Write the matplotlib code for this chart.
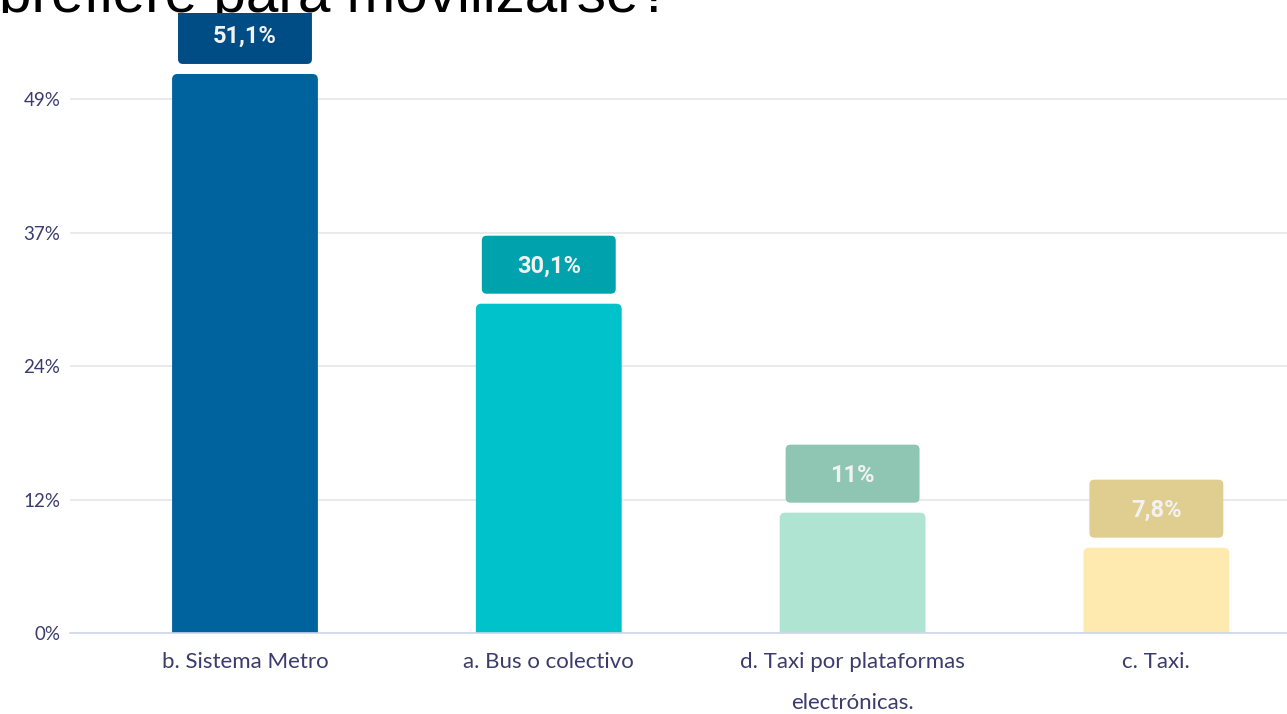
import matplotlib
matplotlib.use('Agg')
import matplotlib.pyplot as plt
from matplotlib.patches import FancyBboxPatch
from matplotlib.transforms import Bbox, TransformedBbox

# Data
categories = ['b. Sistema Metro', 'a. Bus o colectivo',
              'd. Taxi por plataformas\nelectrónicas.', 'c. Taxi.']
values = [51.1, 30.1, 11.0, 7.8]
value_labels = ['51,1%', '30,1%', '11%', '7,8%']
tick_values = [0, 12.2, 24.4, 36.6, 48.8]
tick_labels = ['0%', '12%', '24%', '37%', '49%']

bar_colors = ['#00639e', '#00c2cb', '#b0e4d2', '#feeaaf']
box_colors = ['#004c84', '#00a3ad', '#8fc6b3', '#e0ce91']
text_color = '#3b3b6d'

W, H = 1287, 714
top_cut = 13  # chart area starts this many pixels below the top edge
fig = plt.figure(figsize=(W / 100, H / 100), dpi=100)
ax = fig.add_axes([70 / W, 81 / H, 1 - 70 / W, (633 - top_cut) / H])

px_y = 1 / 10.94      # data units per pixel (y)
px_x = 1 / 304        # data units per pixel (x)
ax.set_ylim(0, (633 - top_cut) * px_y)
ax.set_xlim(-0.576, 3.43)

# Bars, then swap each rectangle for one with rounded top corners
bars = ax.bar(range(len(values)), values, width=0.48, color=bar_colors, zorder=2)
for rect, c in zip(bars, bar_colors):
    x0, w, h = rect.get_x(), rect.get_width(), rect.get_height()
    rect.remove()
    ax.add_patch(FancyBboxPatch((x0, -2), w, h + 2,
                                boxstyle='round,pad=0,rounding_size=0.018',
                                mutation_aspect=px_y / px_x,
                                fc=c, ec='none', zorder=2))

# Value label boxes above the bars
box_w = 134 * px_x
box_h = 58 * px_y
gap = 10 * px_y
for i, (v, lab, c) in enumerate(zip(values, value_labels, box_colors)):
    y0 = v + gap
    ax.add_patch(FancyBboxPatch((i - box_w / 2, y0), box_w, box_h,
                                boxstyle='round,pad=0,rounding_size=0.016',
                                mutation_aspect=px_y / px_x,
                                fc=c, ec='none', zorder=3))
    ax.text(i, y0 + box_h / 2 - 1.5 * px_y, lab, ha='center', va='center',
            color='#f2f2f2', fontsize=17, fontweight='bold',
            family='Roboto', zorder=4)

# Axes styling
ax.set_yticks(tick_values)
ax.set_yticklabels(tick_labels)
ax.set_xticks(range(len(categories)))
ax.set_xticklabels(categories, linespacing=2.3)
ax.tick_params(axis='y', length=0, pad=7, labelsize=13.5, labelcolor=text_color)
ax.tick_params(axis='x', length=0, pad=14, labelsize=16, labelcolor=text_color)
for lab in ax.get_xticklabels() + ax.get_yticklabels():
    lab.set_family('Lato')
ax.grid(axis='y', color='#e6e6ea', linewidth=1.2, zorder=0)
ax.set_axisbelow(True)
for s in ['top', 'right', 'left']:
    ax.spines[s].set_visible(False)
ax.spines['bottom'].set_color('#ccd6eb')
ax.spines['bottom'].set_linewidth(1.2)
ax.spines['bottom'].set_zorder(3)

# Title, cut off at the top of the picture as in the reference
title_clip = TransformedBbox(Bbox([[0, 1 - top_cut / H], [1, 1]]), fig.transFigure)
fig.text(-1 / W, 1 - 12 / H, 'prefiere para movilizarse?',
         ha='left', va='baseline', fontsize=42, color='black',
         family='Liberation Sans', zorder=-1,
         clip_on=True, clip_box=title_clip)

fig.savefig('out.png', dpi=100)
